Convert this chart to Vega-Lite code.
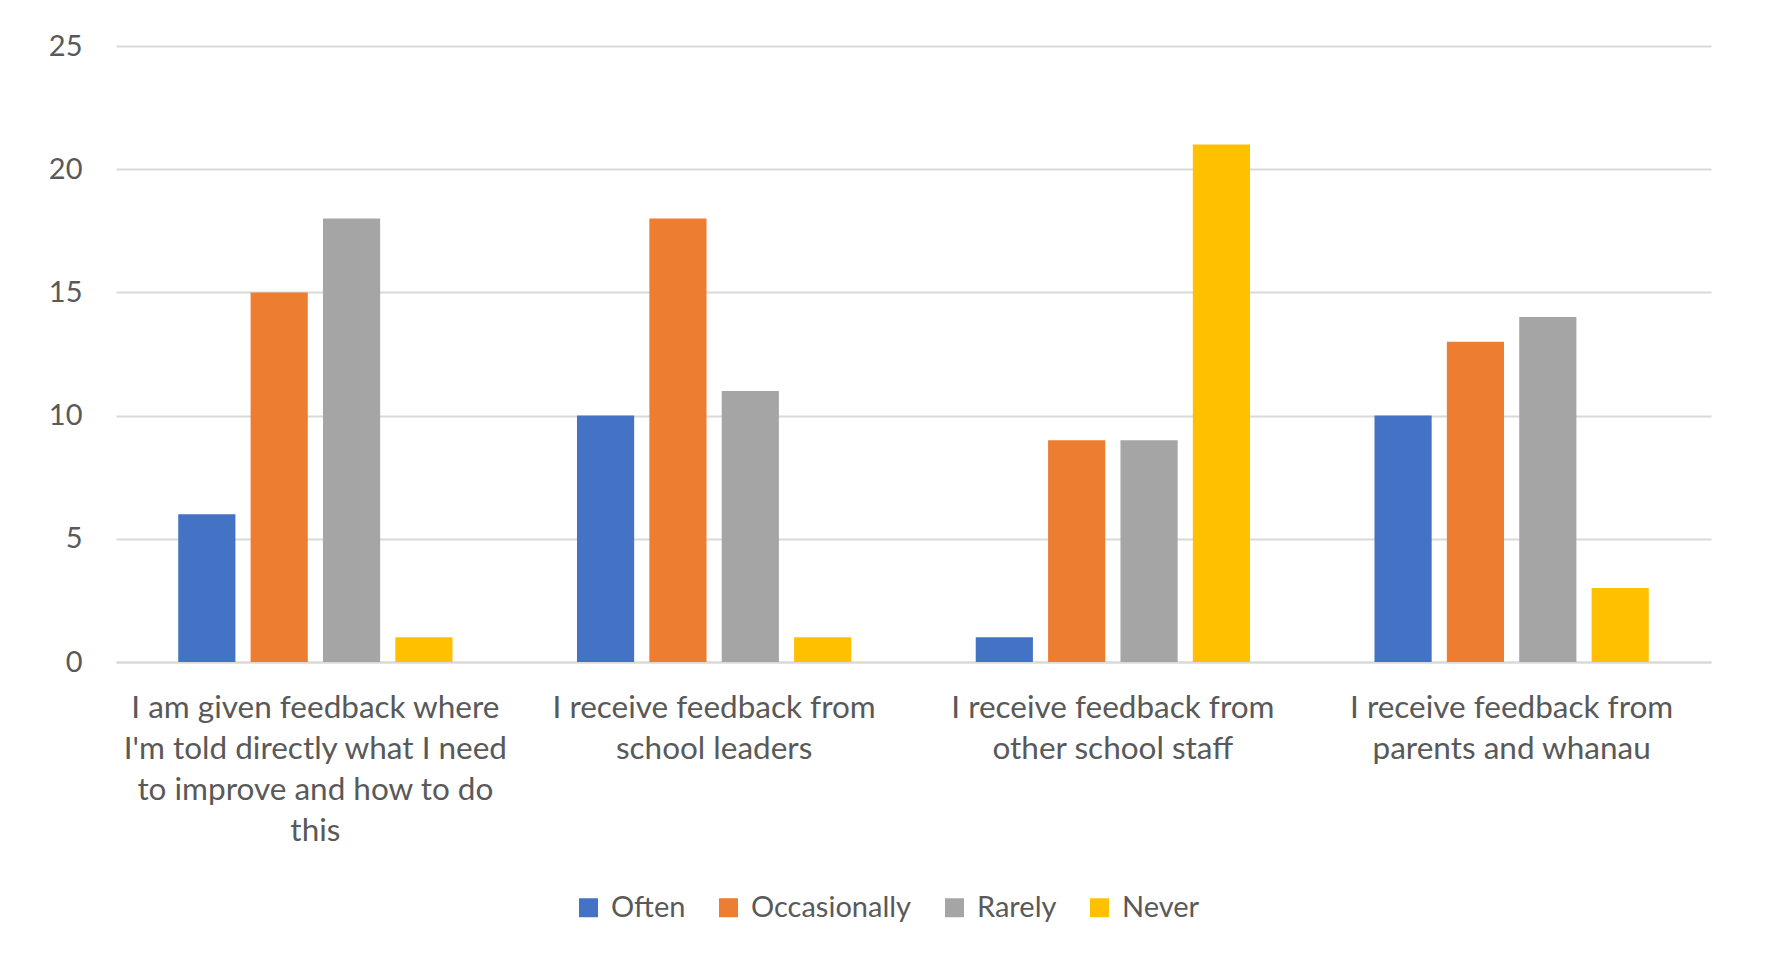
{
  "$schema": "https://vega.github.io/schema/vega-lite/v6.json",
  "width": 1595,
  "height": 616,
  "autosize": "none",
  "padding": {"left": 116, "top": 46, "right": 57, "bottom": 296},
  "background": "white",
  "config": {
    "font": "Lato",
    "view": {"stroke": null},
    "axis": {"labelColor": "#595959", "labelFont": "Lato", "labelFontSize": 29}
  },
  "data": {
    "values": [
      {"statement": "I am given feedback where|I'm told directly what I need|to improve and how to do|this", "response": "Often", "count": 6},
      {"statement": "I am given feedback where|I'm told directly what I need|to improve and how to do|this", "response": "Occasionally", "count": 15},
      {"statement": "I am given feedback where|I'm told directly what I need|to improve and how to do|this", "response": "Rarely", "count": 18},
      {"statement": "I am given feedback where|I'm told directly what I need|to improve and how to do|this", "response": "Never", "count": 1},
      {"statement": "I receive feedback from|school leaders", "response": "Often", "count": 10},
      {"statement": "I receive feedback from|school leaders", "response": "Occasionally", "count": 18},
      {"statement": "I receive feedback from|school leaders", "response": "Rarely", "count": 11},
      {"statement": "I receive feedback from|school leaders", "response": "Never", "count": 1},
      {"statement": "I receive feedback from|other school staff", "response": "Often", "count": 1},
      {"statement": "I receive feedback from|other school staff", "response": "Occasionally", "count": 9},
      {"statement": "I receive feedback from|other school staff", "response": "Rarely", "count": 9},
      {"statement": "I receive feedback from|other school staff", "response": "Never", "count": 21},
      {"statement": "I receive feedback from|parents and whanau", "response": "Often", "count": 10},
      {"statement": "I receive feedback from|parents and whanau", "response": "Occasionally", "count": 13},
      {"statement": "I receive feedback from|parents and whanau", "response": "Rarely", "count": 14},
      {"statement": "I receive feedback from|parents and whanau", "response": "Never", "count": 3}
    ]
  },
  "mark": {"type": "bar"},
  "encoding": {
    "x": {
      "field": "statement",
      "type": "nominal",
      "sort": null,
      "title": null,
      "scale": {"paddingInner": 0, "paddingOuter": 0},
      "axis": {
        "labelAngle": 0,
        "labelExpr": "split(datum.label, '|')",
        "labelLimit": 1000,
        "labelLineHeight": 41,
        "labelPadding": 46,
        "labelBaseline": "middle",
        "labelFontSize": 31.5,
        "ticks": false,
        "domain": true,
        "domainColor": "#d9d9d9",
        "domainWidth": 2,
        "grid": false
      }
    },
    "xOffset": {
      "field": "response",
      "type": "nominal",
      "sort": ["Often", "Occasionally", "Rarely", "Never"],
      "scale": {"paddingInner": 0.21, "paddingOuter": 0.86}
    },
    "y": {
      "field": "count",
      "type": "quantitative",
      "title": null,
      "scale": {"domain": [0, 25]},
      "axis": {
        "values": [0, 5, 10, 15, 20, 25],
        "ticks": false,
        "domain": false,
        "labelPadding": 34,
        "gridColor": "#d9d9d9",
        "gridWidth": 2
      }
    },
    "color": {
      "field": "response",
      "type": "nominal",
      "sort": ["Often", "Occasionally", "Rarely", "Never"],
      "scale": {
        "domain": ["Often", "Occasionally", "Rarely", "Never"],
        "range": ["#4472C4", "#ED7D31", "#A5A5A5", "#FFC000"]
      },
      "legend": {
        "title": null,
        "orient": "none",
        "direction": "horizontal",
        "legendX": 458,
        "legendY": 847,
        "symbolType": "square",
        "symbolSize": 361,
        "symbolStrokeWidth": 0,
        "symbolOpacity": 1,
        "labelFontSize": 29,
        "labelLimit": 500,
        "labelColor": "#595959",
        "labelFont": "Lato",
        "labelOffset": 8,
        "columnPadding": 28
      }
    }
  }
}
